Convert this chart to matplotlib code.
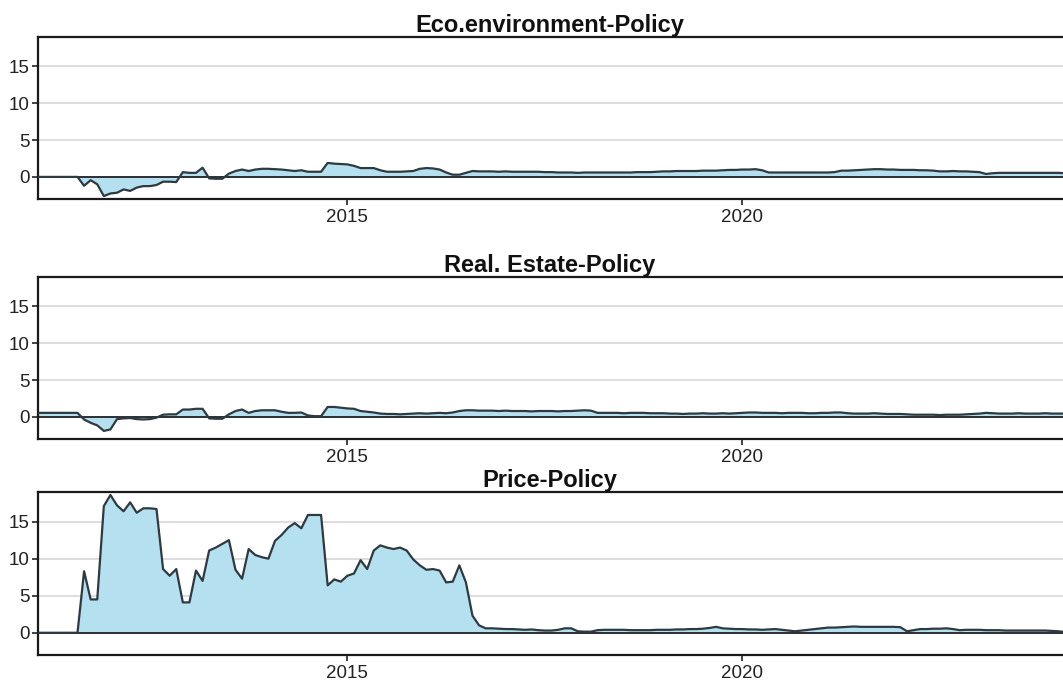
import numpy as np
import matplotlib
matplotlib.use("Agg")
import matplotlib.pyplot as plt

plt.rcParams['font.family'] = ['Liberation Sans', 'DejaVu Sans']

titles = ["Eco.environment-Policy", "Real. Estate-Policy", "Price-Policy"]

eco_policy = [
    0, 0, 0, 0, 0, 0, 0, -1.2, -0.45, -1.0,
    -2.6, -2.25, -2.15, -1.7, -1.9, -1.45, -1.25, -1.25, -1.1, -0.65,
    -0.65, -0.7, 0.65, 0.55, 0.55, 1.25, -0.2, -0.25, -0.25, 0.45,
    0.8, 1.0, 0.8, 1.0, 1.1, 1.1, 1.05, 1.0, 0.9, 0.8,
    0.9, 0.7, 0.7, 0.7, 1.9, 1.8, 1.75, 1.7, 1.5, 1.2,
    1.2, 1.2, 0.9, 0.7, 0.7, 0.7, 0.75, 0.8, 1.1, 1.2,
    1.15, 1.0, 0.6, 0.3, 0.3, 0.55, 0.8, 0.75, 0.75, 0.75,
    0.7, 0.75, 0.7, 0.7, 0.7, 0.7, 0.7, 0.65, 0.65, 0.6,
    0.6, 0.6, 0.55, 0.6, 0.6, 0.6, 0.6, 0.6, 0.6, 0.6,
    0.6, 0.65, 0.65, 0.65, 0.7, 0.75, 0.75, 0.8, 0.8, 0.8,
    0.8, 0.85, 0.85, 0.85, 0.9, 0.95, 0.95, 1.0, 1.0, 1.05,
    0.9, 0.6, 0.6, 0.6, 0.6, 0.6, 0.6, 0.6, 0.6, 0.6,
    0.6, 0.65, 0.85, 0.85, 0.9, 0.95, 1.0, 1.05, 1.05, 1.0,
    1.0, 0.95, 0.95, 0.95, 0.9, 0.9, 0.85, 0.75, 0.75, 0.8,
    0.75, 0.75, 0.7, 0.65, 0.4, 0.5, 0.55, 0.55, 0.55, 0.55,
    0.55, 0.55, 0.55, 0.55, 0.55, 0.55, 0.5,
]

real_estate_policy = [
    0.55, 0.55, 0.55, 0.55, 0.55, 0.55, 0.55, -0.35, -0.8, -1.15,
    -1.9, -1.7, -0.3, -0.2, -0.15, -0.3, -0.35, -0.3, -0.1, 0.3,
    0.35, 0.35, 1.0, 1.0, 1.1, 1.1, -0.2, -0.25, -0.25, 0.35,
    0.8, 1.0, 0.55, 0.8, 0.9, 0.9, 0.9, 0.7, 0.55, 0.55,
    0.6, 0.2, 0.1, 0.1, 1.35, 1.35, 1.25, 1.15, 1.1, 0.8,
    0.7, 0.6, 0.45, 0.4, 0.4, 0.35, 0.4, 0.45, 0.5, 0.45,
    0.5, 0.55, 0.5, 0.6, 0.8, 0.9, 0.9, 0.85, 0.85, 0.85,
    0.8, 0.85, 0.8, 0.8, 0.8, 0.75, 0.8, 0.8, 0.8, 0.75,
    0.8, 0.8, 0.85, 0.9, 0.85, 0.55, 0.55, 0.55, 0.55, 0.5,
    0.55, 0.55, 0.55, 0.5, 0.5, 0.5, 0.45, 0.45, 0.4, 0.45,
    0.45, 0.5, 0.45, 0.45, 0.5, 0.45, 0.5, 0.55, 0.6, 0.6,
    0.55, 0.55, 0.55, 0.5, 0.55, 0.55, 0.55, 0.5, 0.5, 0.55,
    0.55, 0.6, 0.6, 0.5, 0.45, 0.45, 0.45, 0.5, 0.45, 0.4,
    0.4, 0.4, 0.35, 0.3, 0.3, 0.3, 0.3, 0.25, 0.3, 0.3,
    0.3, 0.35, 0.4, 0.45, 0.55, 0.5, 0.45, 0.45, 0.45, 0.5,
    0.45, 0.45, 0.45, 0.5, 0.45, 0.45, 0.45,
]

price_policy = [
    0, 0, 0, 0, 0, 0, 0, 8.3, 4.5, 4.5,
    17.1, 18.6, 17.2, 16.4, 17.6, 16.2, 16.8, 16.8, 16.7, 8.6,
    7.7, 8.6, 4.1, 4.1, 8.4, 7.0, 11.1, 11.5, 12.0, 12.5,
    8.5, 7.3, 11.3, 10.5, 10.2, 10.0, 12.4, 13.2, 14.2, 14.8,
    14.1, 15.9, 15.9, 15.9, 6.4, 7.2, 6.9, 7.7, 8.0, 9.8,
    8.6, 11.1, 11.8, 11.5, 11.3, 11.5, 11.1, 9.9, 9.1, 8.5,
    8.6, 8.4, 6.8, 6.9, 9.1, 6.8, 2.3, 1.0, 0.6, 0.6,
    0.55, 0.5, 0.5, 0.45, 0.4, 0.45, 0.35, 0.3, 0.3, 0.4,
    0.6, 0.6, 0.2, 0.15, 0.15, 0.35, 0.4, 0.4, 0.4, 0.4,
    0.35, 0.35, 0.35, 0.35, 0.4, 0.4, 0.4, 0.45, 0.45, 0.5,
    0.5, 0.55, 0.65, 0.8, 0.6, 0.55, 0.5, 0.5, 0.45, 0.45,
    0.4, 0.45, 0.5, 0.4, 0.3, 0.2, 0.3, 0.4, 0.5, 0.6,
    0.7, 0.7, 0.75, 0.8, 0.85, 0.8, 0.8, 0.8, 0.8, 0.8,
    0.8, 0.75, 0.2, 0.35, 0.5, 0.5, 0.55, 0.55, 0.6, 0.5,
    0.35, 0.4, 0.4, 0.4, 0.35, 0.35, 0.35, 0.3, 0.3, 0.3,
    0.3, 0.3, 0.3, 0.3, 0.25, 0.2, 0.1,
]

series = [eco_policy, real_estate_policy, price_policy]
start_year = 2011 + 1 / 12          # monthly data, Feb 2011 onward
x_ticks = [2015, 2020]
y_ticks = [0, 5, 10, 15]

W, H = 1063, 680
fig = plt.figure(figsize=(W / 100, H / 100), dpi=100)

# axes boxes in pixels: (top, bottom)
boxes = [(37, 199), (277, 439), (492, 655)]
left_px = 38
fill_c = '#b4e0ef'
line_c = '#2e3a3f'

n_max = max(len(s) for s in series)
x_end = start_year + (n_max - 1) / 12

for (top, bot), title, vals in zip(boxes, titles, series):
    ax = fig.add_axes([left_px / W, 1 - bot / H, (W - left_px + 2) / W, (bot - top) / H])
    x = start_year + np.arange(len(vals)) / 12
    y = np.array(vals, dtype=float)
    for yy in [5, 10, 15]:
        ax.axhline(yy, color='#dddddd', lw=1.4, zorder=0)
    ax.fill_between(x, 0, y, color=fill_c, lw=0, zorder=1)
    ax.axhline(0, color='#2a2f33', lw=1.4, zorder=2)
    ax.plot(x, y, color=line_c, lw=1.6, zorder=3)
    ax.set_xlim(start_year, x_end)
    ax.set_ylim(-3, 19)
    ax.set_xticks(x_ticks)
    ax.set_xticklabels([str(t) for t in x_ticks])
    ax.set_yticks(y_ticks)
    ax.set_yticklabels([str(t) for t in y_ticks])
    ax.tick_params(axis='both', labelsize=13.5, colors='#222222', length=4, width=1.2)
    ax.tick_params(axis='x', pad=3)
    ax.tick_params(axis='y', pad=2)
    for s in ax.spines.values():
        s.set_linewidth(1.6)
        s.set_color('#1a1a1a')
    ax.set_title(title, fontsize=17, fontweight='bold', color='#111111', pad=3,
                 x=(550 - left_px) / (W - left_px + 2))

fig.savefig('out.png', dpi=100)
